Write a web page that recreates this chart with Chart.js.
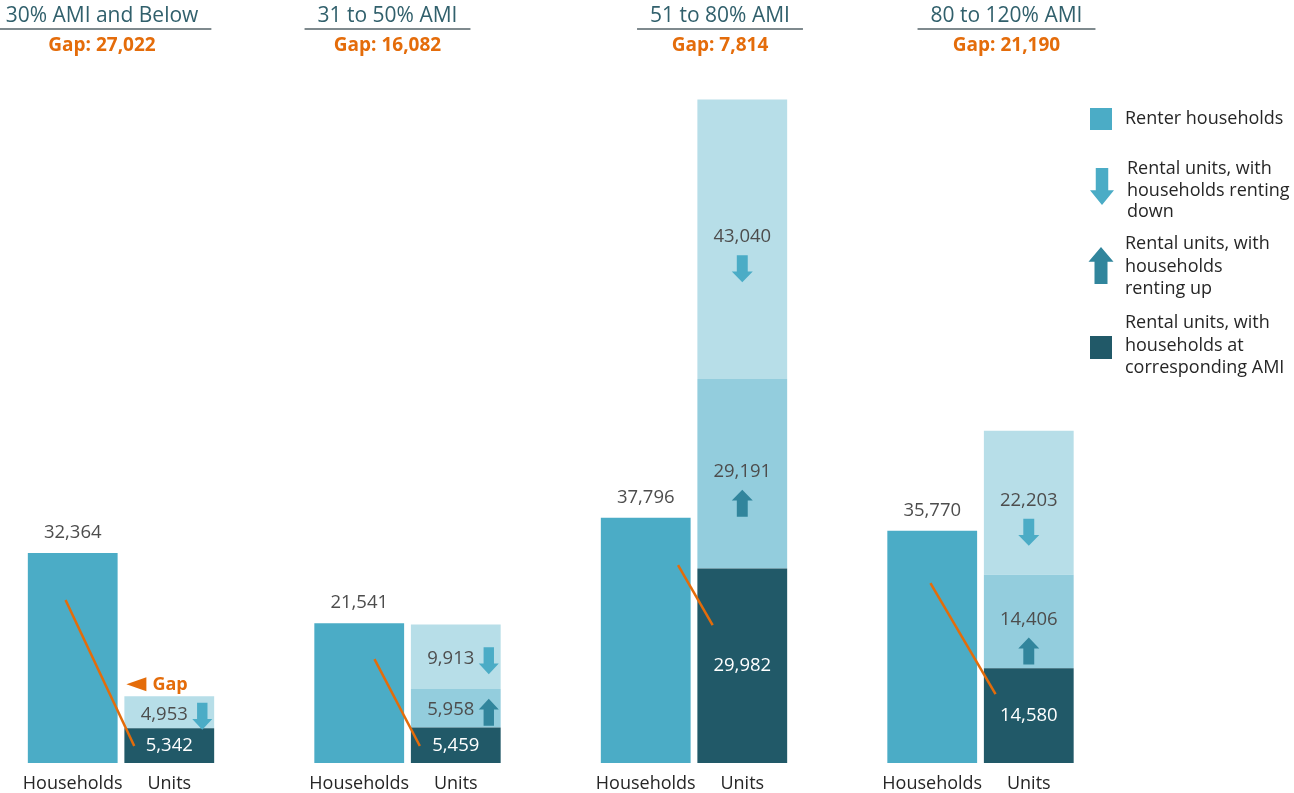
<!DOCTYPE html>
<html>
<head>
<meta charset="utf-8">
<script src="https://cdn.jsdelivr.net/npm/chart.js@4"></script>
<style>
  html, body { margin: 0; padding: 0; background: #fff; }
  #wrap { width: 1294px; height: 793px; position: relative; }
</style>
</head>
<body>
<div id="wrap"><canvas id="gapChart"></canvas></div>
<script>
const groups = ["30% AMI and Below", "31 to 50% AMI", "51 to 80% AMI", "80 to 120% AMI"];
const gaps = [27022, 16082, 7814, 21190];
const barNames = ["Households", "Units"];
const households = [32364, 21541, 37796, 35770];
const unitsAtAmi = [5342, 5459, 29982, 14580];
const unitsRentingUp = [null, 5958, 29191, 14406];
const unitsRentingDown = [4953, 9913, 43040, 22203];

const colHouse = "#4bacc6";
const colAtAmi = "#215968";
const colUp = "#93cddd";
const colDown = "#b7dee8";
const arrowDown = "#4bacc6";
const arrowUp = "#31859c";
const orange = "#e46c0a";
const font = "'Open Sans', sans-serif";

Chart.defaults.font.family = font;

// title shift from group centre, and the orange "gap" strokes (bar fraction, value)
const titleShift = [-19, -20, 26, 26];
const gapStrokes = [
  { from: [0.42, 25100], to: [0.11, 2620] },
  { from: [0.67, 16000], to: [0.10, 2620] },
  { from: [0.86, 30500], to: [0.17, 21260] },
  { from: [0.48, 27700], to: [0.13, 10600] }
];

const fmt = (v) => v.toLocaleString("en-US");

function drawArrow(ctx, cx, top, w, h, dir, color) {
  const shaft = w * 0.52, head = h * 0.4;
  ctx.fillStyle = color;
  ctx.beginPath();
  if (dir === "down") {
    ctx.moveTo(cx - shaft / 2, top);
    ctx.lineTo(cx + shaft / 2, top);
    ctx.lineTo(cx + shaft / 2, top + h - head);
    ctx.lineTo(cx + w / 2, top + h - head);
    ctx.lineTo(cx, top + h);
    ctx.lineTo(cx - w / 2, top + h - head);
    ctx.lineTo(cx - shaft / 2, top + h - head);
  } else {
    ctx.moveTo(cx, top);
    ctx.lineTo(cx + w / 2, top + head);
    ctx.lineTo(cx + shaft / 2, top + head);
    ctx.lineTo(cx + shaft / 2, top + h);
    ctx.lineTo(cx - shaft / 2, top + h);
    ctx.lineTo(cx - shaft / 2, top + head);
    ctx.lineTo(cx - w / 2, top + head);
  }
  ctx.closePath();
  ctx.fill();
}

const annotate = {
  id: "annotate",
  afterDatasetsDraw(chart) {
    const ctx = chart.ctx;
    const area = chart.chartArea;
    const x = chart.scales.x, y = chart.scales.y;
    const hMeta = chart.getDatasetMeta(0);
    const amiMeta = chart.getDatasetMeta(1);
    const upMeta = chart.getDatasetMeta(2);
    const downMeta = chart.getDatasetMeta(3);
    ctx.save();
    ctx.textAlign = "center";
    ctx.textBaseline = "middle";

    groups.forEach((g, i) => {
      // group titles
      const cx = x.getPixelForValue(i) + titleShift[i];
      ctx.font = "21px " + font;
      ctx.fillStyle = "#31606c";
      ctx.fillText(g, cx, 16);
      const w = ctx.measureText(g).width + 26;
      ctx.strokeStyle = "#7f8a8e";
      ctx.lineWidth = 2;
      ctx.beginPath();
      ctx.moveTo(cx - w / 2, 29);
      ctx.lineTo(cx + w / 2, 29);
      ctx.stroke();
      ctx.font = "bold 19px " + font;
      ctx.fillStyle = orange;
      ctx.fillText("Gap: " + fmt(gaps[i]), cx, 46);

      const hb = hMeta.data[i];
      const ab = amiMeta.data[i];

      // orange strokes
      const s = gapStrokes[i];
      ctx.strokeStyle = orange;
      ctx.lineWidth = 2.5;
      ctx.beginPath();
      ctx.moveTo(hb.x - hb.width / 2 + s.from[0] * hb.width, y.getPixelForValue(s.from[1]));
      ctx.lineTo(ab.x - ab.width / 2 + s.to[0] * ab.width, y.getPixelForValue(s.to[1]));
      ctx.stroke();

      // households value
      ctx.font = "18.5px " + font;
      ctx.fillStyle = "#4d4d4d";
      ctx.fillText(fmt(households[i]), hb.x, hb.y - 20);

      // units at corresponding AMI
      ctx.fillStyle = "#ffffff";
      ctx.fillText(fmt(unitsAtAmi[i]), ab.x, (ab.y + ab.base) / 2);

      // renting up / down segments
      [[upMeta, unitsRentingUp, "up", arrowUp], [downMeta, unitsRentingDown, "down", arrowDown]].forEach(([meta, vals, dir, col]) => {
        if (vals[i] == null) return;
        const b = meta.data[i];
        const mid = (b.y + b.base) / 2;
        const h = b.base - b.y;
        ctx.fillStyle = "#4d4d4d";
        if (h > 80) {
          ctx.fillText(fmt(vals[i]), b.x, mid - 2);
          drawArrow(ctx, b.x, mid + 16, 21, 27, dir, col);
        } else {
          ctx.fillText(fmt(vals[i]), b.x - 5, mid + 2);
          drawArrow(ctx, b.x + 33, mid + 4 - 13.5, 20, 27, dir, col);
        }
      });

      // bar names
      ctx.font = "18px " + font;
      ctx.fillStyle = "#262626";
      ctx.fillText(barNames[0], hb.x, area.bottom + 21);
      ctx.fillText(barNames[1], ab.x, area.bottom + 21);
    });

    // "Gap" pointer on the first group
    const top = downMeta.data[0];
    const left = top.x - top.width / 2;
    ctx.fillStyle = orange;
    ctx.beginPath();
    ctx.moveTo(left + 2, top.y - 12);
    ctx.lineTo(left + 22, top.y - 19);
    ctx.lineTo(left + 22, top.y - 5);
    ctx.closePath();
    ctx.fill();
    ctx.font = "bold 18px " + font;
    ctx.textAlign = "left";
    ctx.fillText("Gap", left + 28, top.y - 11);

    // legend
    const lx = 1090, tx = 1125;
    ctx.font = "18px " + font;
    ctx.fillStyle = colHouse;
    ctx.fillRect(lx, 108, 22, 22);
    ctx.fillStyle = colAtAmi;
    ctx.fillRect(lx, 336, 22, 23);
    drawArrow(ctx, lx + 12, 168, 24, 37, "down", arrowDown);
    drawArrow(ctx, lx + 11, 247, 25, 37, "up", arrowUp);
    ctx.fillStyle = "#262626";
    ctx.fillText("Renter households", tx, 119);
    ["Rental units, with", "households renting", "down"].forEach((t, k) => ctx.fillText(t, tx + 2, 169 + k * 21.5));
    ["Rental units, with", "households", "renting up"].forEach((t, k) => ctx.fillText(t, tx, 244 + k * 22.5));
    ["Rental units, with", "households at", "corresponding AMI"].forEach((t, k) => ctx.fillText(t, tx, 323 + k * 22.5));
    ctx.restore();
  }
};

new Chart(document.getElementById("gapChart"), {
  type: "bar",
  data: {
    labels: groups,
    datasets: [
      { label: "Renter households", data: households, backgroundColor: colHouse, stack: "h" },
      { label: "Rental units, with households at corresponding AMI", data: unitsAtAmi, backgroundColor: colAtAmi, stack: "u" },
      { label: "Rental units, with households renting up", data: unitsRentingUp, backgroundColor: colUp, stack: "u" },
      { label: "Rental units, with households renting down", data: unitsRentingDown, backgroundColor: colDown, stack: "u" }
    ]
  },
  options: {
    responsive: true,
    maintainAspectRatio: false,
    animation: false,
    layout: { padding: { left: 121, right: 313.5, top: 49, bottom: 30 } },
    datasets: { bar: { categoryPercentage: 0.674, barPercentage: 0.93, clip: false } },
    scales: {
      x: { display: false, stacked: true, offset: false },
      y: { display: false, stacked: true, min: 0, max: 110000 }
    },
    plugins: { legend: { display: false }, tooltip: { enabled: false } }
  },
  plugins: [annotate]
});
</script>
</body>
</html>
